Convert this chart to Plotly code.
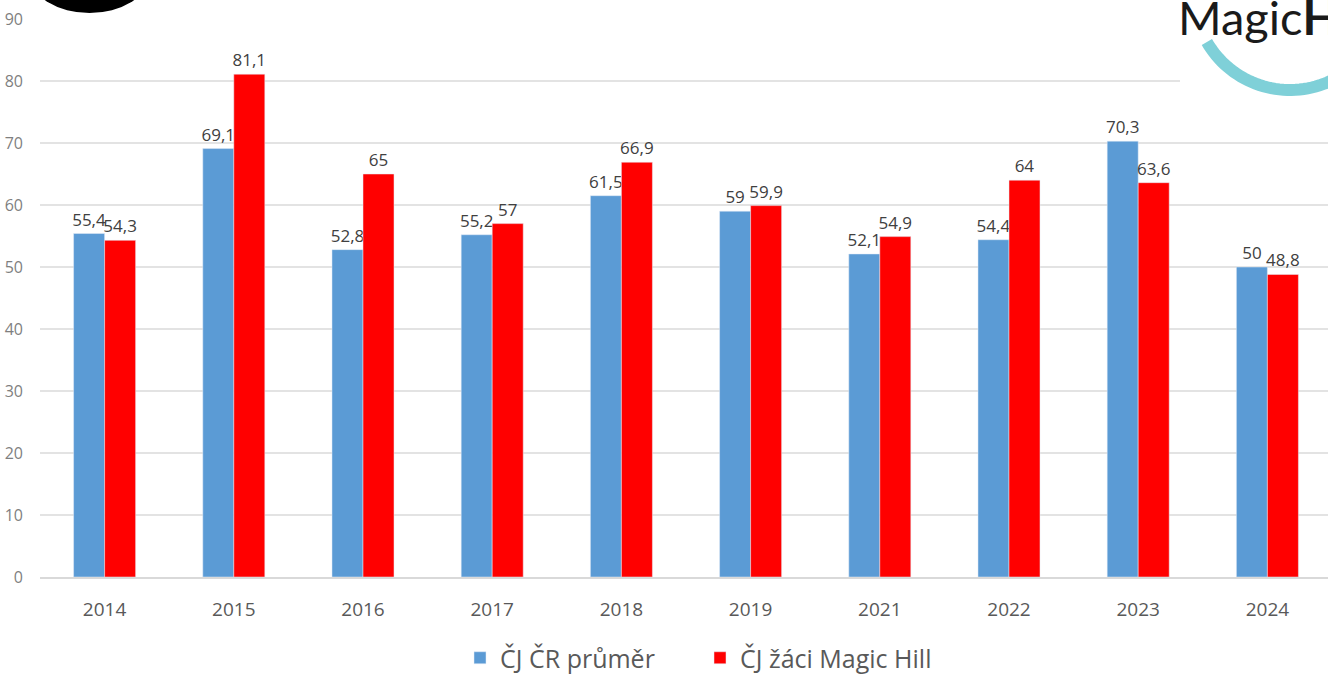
import numpy as np
import plotly.graph_objects as go

years = ["2014", "2015", "2016", "2017", "2018", "2019", "2021", "2022", "2023", "2024"]
cr_prumer = [55.4, 69.1, 52.8, 55.2, 61.5, 59.0, 52.1, 54.4, 70.3, 50.0]
zaci_magic_hill = [54.3, 81.1, 65.0, 57.0, 66.9, 59.9, 54.9, 64.0, 63.6, 48.8]
y_ticks = [0, 10, 20, 30, 40, 50, 60, 70, 80, 90]

def fmt(v):
    s = ("%.1f" % v).rstrip("0").rstrip(".")
    return s.replace(".", ",")

W, H = 1328, 675
ML, MR, MT, MB = 40, 0, 19, 98
PW, PH = W - ML - MR, H - MT - MB

def px(x):
    return (x - ML) / PW

def py(y):
    return (MT + PH - y) / PH

fig = go.Figure()
fig.add_trace(go.Bar(
    x=years, y=cr_prumer, name="ČJ ČR průměr", marker_color="#5b9bd5",
    text=[fmt(v) for v in cr_prumer], textposition="outside", cliponaxis=False,
    constraintext="none", textangle=0,
    textfont=dict(size=17, color="#404040", family="Open Sans"),
))
fig.add_trace(go.Bar(
    x=years, y=zaci_magic_hill, name="ČJ žáci Magic Hill", marker_color="#ff0000",
    text=[fmt(v) for v in zaci_magic_hill], textposition="outside", cliponaxis=False,
    constraintext="none", textangle=0,
    textfont=dict(size=17, color="#404040", family="Open Sans"),
))

fig.update_layout(
    width=W, height=H,
    margin=dict(l=ML, r=MR, t=MT, b=MB, autoexpand=False),
    paper_bgcolor="white", plot_bgcolor="white",
    barmode="group", bargap=0.52, bargroupgap=0,
    font=dict(family="Open Sans", color="#595959"),
    showlegend=True,
    legend=dict(orientation="h", xref="container", yref="container",
                x=700 / W, xanchor="center", y=1 - 635 / H, yanchor="top",
                font=dict(size=25, color="#595959"), itemwidth=30,
                entrywidth=195),
    xaxis=dict(type="category", range=[-0.5, -0.5 + PW / 129.2], automargin=False,
               showgrid=False, showline=True, linecolor="#d9d9d9", linewidth=1.5,
               ticks="", tickfont=dict(size=19, color="#595959"), ticklabelstandoff=14),
    yaxis=dict(range=[0, 90], tickvals=y_ticks, showgrid=True, gridcolor="#e3e3e3",
               gridwidth=1.5, zeroline=False, showline=False, automargin=False,
               tickfont=dict(size=16, color="#7f7f7f"), ticklabelstandoff=16),
)

shapes = []
# top-left logo (black ellipse, mostly cut off)
shapes.append(dict(type="circle", xref="paper", yref="paper",
                   x0=px(31), x1=px(148), y0=py(13), y1=py(-60),
                   fillcolor="black", line=dict(width=0), layer="above"))
# top-right logo white box
shapes.append(dict(type="rect", xref="paper", yref="paper",
                   x0=px(1180), x1=px(1340), y0=py(96), y1=py(-5),
                   fillcolor="white", line=dict(width=0), layer="above"))
# teal arc
cx, cy, r = 1290, -6, 96
t = np.linspace(np.deg2rad(150), np.deg2rad(55), 40)
pts = [(cx + r * np.cos(a), cy + r * np.sin(a)) for a in t]
path = "M " + " L ".join("%.5f,%.5f" % (px(x), py(y)) for x, y in pts)
shapes.append(dict(type="path", xref="paper", yref="paper", path=path,
                   line=dict(color="#7fd0d8", width=12), layer="above"))
fig.update_layout(shapes=shapes)

fig.add_annotation(xref="paper", yref="paper", x=px(1176), y=py(-13), xanchor="left", yanchor="top",
                   text="Magic<b>H</b>", showarrow=False,
                   font=dict(family="Lato", size=47, color="#1a1a1a"))

fig.write_html("out.html", config={"displayModeBar": False},
               post_script="document.body.style.margin='0';document.body.style.overflow='hidden';")
